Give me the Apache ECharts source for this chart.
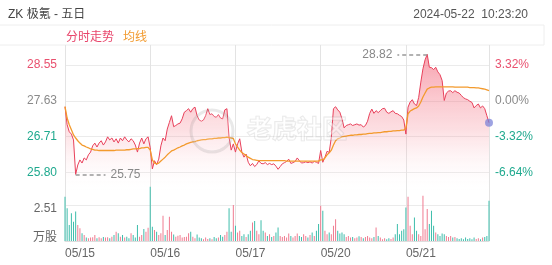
<!DOCTYPE html>
<html><head><meta charset="utf-8">
<script src="https://cdn.jsdelivr.net/npm/echarts@6/dist/echarts.min.js"></script>
<style>html,body{margin:0;padding:0;background:#fff}#c{width:552px;height:265px}</style>
</head><body><div id="c"></div>
<script>
const days = ['05/15','05/16','05/17','05/20','05/21'];
const prevClose = 27.63;
const pctTicks = {min:-6.64, max:3.32, step:3.32};
const volTick = 2.51;

const p0515 = [27.48,27.02,26.84,26.78,26.63,25.75,25.99,26.12,26.04,26.17,26.12,26.25,26.32,26.48,26.55,26.45,26.55,26.61,26.50,26.58,26.71,26.63,26.68,26.58,26.66,26.55,26.68,26.61,26.71,26.63,26.58,26.66,26.61,26.50,26.32,26.55,26.68,26.53,26.66,26.71];
const p0516 = [26.43,25.89,26.10,26.00,26.14,26.48,26.68,26.61,26.91,27.08,27.25,26.97,27.00,27.04,27.06,27.17,27.34,27.38,27.43,27.34,27.43,27.47,27.25,27.14,27.11,27.14,27.25,27.43,27.28,27.30,27.23,27.21,27.28,27.19,27.17,27.40,27.43,26.70,26.37,26.53];
const p0517 = [26.32,26.53,26.66,26.32,26.19,26.27,26.06,25.97,26.03,25.95,26.00,26.10,26.03,26.02,26.05,26.00,26.03,26.00,26.02,25.96,25.88,25.95,26.02,26.05,26.08,26.14,26.03,26.05,26.08,26.17,26.10,26.04,26.05,26.07,26.05,26.07,26.04,26.08,26.06,26.03];
const p0520 = [26.36,26.06,26.19,26.34,26.31,26.70,27.43,27.48,27.40,27.34,27.17,26.94,27.00,27.02,27.04,27.00,27.02,27.04,27.01,27.02,26.96,27.00,27.11,27.31,27.42,27.31,27.38,27.33,27.38,27.43,27.44,27.34,27.31,27.35,27.38,27.31,27.30,27.26,27.23,27.14];
const p0521 = [26.78,27.47,27.60,27.66,27.55,27.51,27.72,28.11,28.45,28.68,28.82,28.49,28.48,28.43,28.49,28.37,28.30,28.15,27.64,27.83,27.88,27.89,27.84,27.89,27.85,27.83,27.77,27.71,27.68,27.66,27.62,27.59,27.45,27.51,27.55,27.45,27.50,27.43,27.25,27.07];

const a0515 = [27.48,27.19,27.02,26.89,26.76,26.68,26.61,26.55,26.50,26.48,26.45,26.43,26.40,26.39,26.37,26.37,26.36,26.36,26.36,26.36,26.36,26.36,26.36,26.36,26.37,26.37,26.37,26.37,26.37,26.38,26.38,26.39,26.40,26.40,26.41,26.41,26.43,26.43,26.44,26.44];
const a0516 = [26.37,26.12,26.04,26.02,26.04,26.09,26.14,26.19,26.25,26.30,26.35,26.37,26.40,26.43,26.45,26.48,26.50,26.53,26.55,26.57,26.58,26.59,26.61,26.62,26.63,26.64,26.64,26.65,26.66,26.66,26.67,26.67,26.68,26.68,26.69,26.69,26.70,26.69,26.68,26.67];
const a0517 = [26.53,26.45,26.37,26.31,26.27,26.23,26.19,26.16,26.13,26.12,26.11,26.10,26.10,26.10,26.10,26.10,26.10,26.10,26.10,26.10,26.10,26.10,26.10,26.10,26.09,26.09,26.09,26.09,26.09,26.09,26.09,26.09,26.09,26.09,26.09,26.09,26.09,26.09,26.09,26.09];
const a0520 = [26.12,26.12,26.17,26.25,26.30,26.37,26.50,26.61,26.66,26.68,26.71,26.72,26.73,26.74,26.75,26.75,26.76,26.76,26.77,26.77,26.78,26.78,26.79,26.80,26.80,26.81,26.81,26.82,26.82,26.83,26.84,26.84,26.85,26.85,26.86,26.86,26.87,26.87,26.88,26.88];
const a0521 = [26.94,27.30,27.37,27.40,27.43,27.45,27.50,27.60,27.73,27.83,27.93,27.96,27.98,27.98,27.99,27.99,27.99,27.99,27.99,27.99,27.99,27.99,27.99,27.98,27.98,27.98,27.98,27.98,27.98,27.98,27.97,27.97,27.97,27.96,27.96,27.95,27.94,27.93,27.91,27.89];

const v0515 = [3.15,2.32,1.14,1.97,1.37,2.09,1.14,0.90,0.55,0.43,0.24,0.19,0.24,0.26,0.43,0.19,0.26,0.19,0.28,0.24,0.26,0.19,0.31,0.43,0.66,0.55,0.31,0.43,0.24,0.31,0.19,0.55,0.43,0.24,1.14,0.31,0.43,0.85,0.66,0.95];
const v0516 = [3.86,1.02,0.78,0.66,0.43,0.55,1.80,0.43,0.78,1.73,0.66,0.47,0.31,0.38,0.43,0.24,0.28,0.31,0.55,0.66,0.31,0.19,0.47,0.24,0.19,0.12,0.24,0.14,0.19,0.12,0.28,0.19,0.24,0.43,0.31,0.43,0.66,2.32,0.66,2.56];
const v0517 = [1.08,0.60,0.72,0.36,0.48,0.29,0.48,0.72,1.31,1.43,0.72,0.48,1.48,0.72,0.60,0.36,0.48,0.29,0.36,0.60,0.96,0.36,0.29,0.36,0.24,0.53,0.36,0.24,0.36,0.53,0.36,0.29,0.48,0.36,0.24,0.43,0.60,0.36,0.72,1.20];
const v0520 = [2.51,2.15,0.72,0.48,0.60,0.48,1.08,1.55,0.72,0.53,0.60,0.48,0.29,0.36,0.24,0.29,0.19,0.24,0.33,0.29,0.19,0.29,0.36,0.24,0.19,0.29,0.96,0.36,0.24,0.12,0.19,0.12,0.19,0.14,0.24,0.48,1.20,0.48,0.72,0.84];
const v0521 = [2.39,3.15,1.08,0.48,1.67,0.72,0.48,0.36,3.22,0.84,2.27,1.20,2.15,1.08,0.60,0.48,0.36,0.53,0.48,0.36,0.29,0.36,0.24,0.29,0.19,0.14,0.19,0.12,0.24,0.14,0.19,0.12,0.24,0.14,0.19,0.12,0.24,0.29,0.36,2.87];

const priceDays = [p0515,p0516,p0517,p0520,p0521];
const avgDays = [a0515,a0516,a0517,a0520,a0521];
const volDays = [v0515,v0516,v0517,v0520,v0521];

const perDay = p0515.length;
const cats = [];
days.forEach(d => { for (let i = 0; i < perDay; i++) cats.push(d + '#' + i); });
const price = [].concat(...priceDays);
const avg = [].concat(...avgDays);
const vol = [].concat(...volDays);
const last = price.length - 1;

let minI = 0, maxI = 0;
price.forEach((v, i) => { if (v < price[minI]) minI = i; if (v > price[maxI]) maxI = i; });

const RED = '#e9506e', TEAL = '#1fa98e', GRAY = '#8a8a8a';
const FF = '"Liberation Sans", Arial, "Noto Sans CJK SC", sans-serif';

// layout
const GL = 65, GR = 63;
const labTop = 65, labH = 107.6;
const dataTop = 45, dataBottom = 190;
const ppp = prevClose * (pctTicks.max - pctTicks.min) / 100 / labH;
const dataMax = prevClose * (1 + pctTicks.max / 100) + (labTop - dataTop) * ppp;
const dataMin = prevClose * (1 + pctTicks.min / 100) - (dataBottom - (labTop + labH)) * ppp;

const volColor = (i) => {
  const prev = i === 0 ? prevClose : price[i - 1];
  if (price[i] > prev) return '#f07b90';
  if (price[i] < prev) return '#3dbdab';
  return '#aaaaaa';
};

const chart = echarts.init(document.getElementById('c'), null, {renderer: 'canvas'});
chart.setOption({
  animation: false,
  textStyle: {fontFamily: FF},
  title: [
    {text: 'ZK 极氪 - 五日', left: 3, top: 4, textStyle: {fontSize: 12, fontWeight: 'normal', color: '#444', fontFamily: FF}},
    {text: '2024-05-22  10:23:20', right: 19, top: 4, textStyle: {fontSize: 12, fontWeight: 'normal', color: '#555', fontFamily: FF}}
  ],
  legend: {
    left: 61, top: 27, icon: 'none', itemWidth: 0, itemHeight: 0, itemGap: 9, selectedMode: false,
    textStyle: {fontSize: 12, fontFamily: FF, padding: [0,0,0,-5]},
    data: [{name: '分时走势', textStyle: {color: '#e8456b'}}, {name: '均线', textStyle: {color: '#f29a2e'}}]
  },
  graphic: [
    {type: 'rect', shape: {x: -1, y: 25, width: 545, height: 20}, style: {fill: 'none', stroke: '#eeeeee', lineWidth: 1}, z: 0},
    {type: 'circle', shape: {cx: 212, cy: 131, r: 21}, style: {fill: 'rgba(255,255,255,0.15)', stroke: 'rgba(120,120,120,0.16)', lineWidth: 3}, z: 50},
    {type: 'text', x: 247, y: 116, style: {text: '老虎社区', font: 'bold 25px "Noto Sans CJK SC"', fill: 'rgba(255,255,255,0.35)', stroke: 'rgba(120,120,120,0.18)', lineWidth: 1.2}, z: 50}
  ],
  grid: [
    {left: GL, right: GR, top: dataTop, height: dataBottom - dataTop},
    {left: GL, right: GR, top: labTop, height: labH},
    {left: GL, right: GR, top: 205.7, height: 35.3},
    {left: GL, right: GR, top: 45, height: 196}
  ],
  xAxis: [
    {gridIndex: 0, type: 'category', data: cats, boundaryGap: false, show: false},
    {gridIndex: 1, type: 'category', data: cats, boundaryGap: false, show: false},
    {gridIndex: 2, type: 'category', data: cats, boundaryGap: false,
      axisLine: {show: true, lineStyle: {color: '#dddddd'}}, axisTick: {show: false},
      axisLabel: {interval: (i) => i % perDay === 0, formatter: (v) => v.split('#')[0], align: 'left', color: '#666', fontSize: 12, margin: 7, fontFamily: FF},
      splitLine: {show: false}},
    {gridIndex: 3, type: 'category', data: cats, boundaryGap: false,
      axisLine: {show: false}, axisTick: {show: false}, axisLabel: {show: false},
      splitLine: {show: true, interval: (i) => i % perDay === 0 || i === last, lineStyle: {color: '#e3e3e3', width: 1}}}
  ],
  yAxis: [
    {gridIndex: 0, type: 'value', min: dataMin, max: dataMax, show: false},
    {gridIndex: 1, type: 'value', position: 'left', min: pctTicks.min, max: pctTicks.max, interval: pctTicks.step,
      axisLine: {show: false}, axisTick: {show: false},
      axisLabel: {margin: 8, fontSize: 12, fontFamily: FF,
        formatter: (v) => (prevClose * (1 + v / 100)).toFixed(2),
        color: (v) => { const n = Number(v); return n > 0.001 ? RED : (n < -0.001 ? TEAL : GRAY); }},
      splitLine: {lineStyle: {color: '#ebebeb'}}},
    {gridIndex: 1, type: 'value', position: 'right', min: pctTicks.min, max: pctTicks.max, interval: pctTicks.step,
      axisLine: {show: false}, axisTick: {show: false}, splitLine: {show: false},
      axisLabel: {margin: 6, fontSize: 12, fontFamily: FF,
        formatter: (v) => (Math.abs(v) < 0.001 ? 0 : v).toFixed(2) + '%',
        color: (v) => { const n = Number(v); return n > 0.001 ? RED : (n < -0.001 ? TEAL : GRAY); }}},
    {gridIndex: 2, type: 'value', min: 0, max: volTick, interval: volTick,
      axisLine: {show: false}, axisTick: {show: false},
      axisLabel: {margin: 8, fontSize: 12, color: '#666', fontFamily: FF,
        formatter: (v) => v === 0 ? '{u|万股}' : '{n|' + v.toFixed(2) + '}',
        rich: {u: {fontSize: 12, color: '#666', padding: [0, 0, 7, 0]}, n: {fontSize: 12, color: '#666', padding: [5, 0, 0, 0]}}},
      splitLine: {lineStyle: {color: '#ebebeb'}}},
    {gridIndex: 3, type: 'value', show: false, min: 0, max: 1}
  ],
  series: [
    {name: '分时走势', type: 'line', xAxisIndex: 0, yAxisIndex: 0, data: price, showSymbol: false, symbol: 'none',
      color: '#e8456b',
      lineStyle: {color: '#e8405a', width: 1},
      areaStyle: {origin: 'start', color: new echarts.graphic.LinearGradient(0, 0, 0, 1, [
        {offset: 0, color: 'rgba(240,70,95,0.72)'},
        {offset: 0.55, color: 'rgba(245,120,135,0.35)'},
        {offset: 1, color: 'rgba(255,255,255,0.05)'}])},
      markLine: {silent: true, symbol: ['none', 'none'], animation: false,
        lineStyle: {color: '#999', type: [4, 3], width: 1.5},
        label: {position: 'end', distance: 5, color: '#888', fontSize: 12, fontFamily: FF},
        data: [
          [{coord: [minI, price[minI]]}, {coord: [minI + 14, price[minI]], label: {formatter: price[minI].toFixed(2)}}],
          [{coord: [maxI, price[maxI]]}, {coord: [maxI - 14, price[maxI]], label: {formatter: price[maxI].toFixed(2)}}]
        ]},
      z: 3},
    {name: '均线', type: 'line', xAxisIndex: 0, yAxisIndex: 0, data: avg, showSymbol: false, symbol: 'none',
      color: '#f29a2e', lineStyle: {color: '#f39a2c', width: 1.3}, z: 4},
    {name: 'last', type: 'scatter', xAxisIndex: 0, yAxisIndex: 0, data: [[cats[last], price[last]]],
      symbolSize: 8, itemStyle: {color: 'rgba(120,128,215,0.9)'}, z: 6},
    {name: 'vol', type: 'bar', xAxisIndex: 2, yAxisIndex: 3, data: vol, barWidth: 1, clip: false,
      itemStyle: {color: (p) => volColor(p.dataIndex)}}
  ]
});
</script></body></html>
